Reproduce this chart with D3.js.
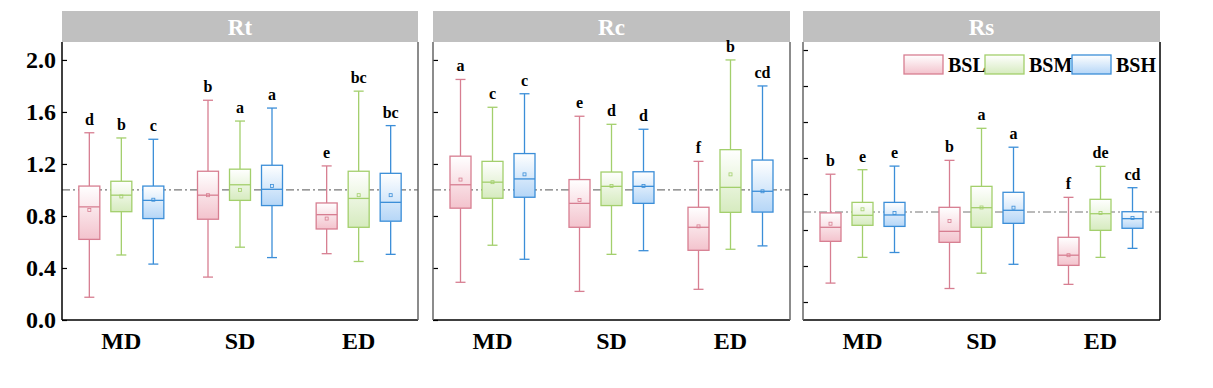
<!DOCTYPE html>
<html>
<head>
<meta charset="utf-8">
<script src="https://cdn.jsdelivr.net/npm/d3@7"></script>
<style>
  body { margin: 0; background: #fff; }
  text { font-family: "Liberation Serif", "DejaVu Serif", serif; font-weight: bold; }
</style>
</head>
<body>
<div class="chart"></div>
<script>
// categories and series
var categories = ["MD", "SD", "ED"];
var series = ["BSL", "BSM", "BSH"];
var panels = ["Rt", "Rc", "Rs"];

// box stats per category, per series: [min, q1, median, q3, max, mean]
var rtStats = [
  [[0.175, 0.62, 0.87, 1.03, 1.44, 0.846], [0.50, 0.833, 0.96, 1.067, 1.40, 0.95], [0.43, 0.78, 0.92, 1.03, 1.39, 0.925]],
  [[0.33, 0.775, 0.96, 1.144, 1.69, 0.96], [0.56, 0.92, 1.04, 1.16, 1.53, 1.0], [0.48, 0.88, 1.005, 1.19, 1.63, 1.03]],
  [[0.51, 0.70, 0.81, 0.90, 1.185, 0.78], [0.45, 0.713, 0.935, 1.144, 1.76, 0.96], [0.505, 0.76, 0.905, 1.128, 1.495, 0.96]]
];
var rcStats = [
  [[0.29, 0.86, 1.04, 1.26, 1.85, 1.08], [0.575, 0.936, 1.06, 1.22, 1.636, 1.06], [0.467, 0.944, 1.085, 1.28, 1.74, 1.12]],
  [[0.22, 0.713, 0.897, 1.08, 1.567, 0.923], [0.505, 0.88, 1.028, 1.138, 1.505, 1.03], [0.533, 0.897, 1.028, 1.14, 1.467, 1.03]],
  [[0.236, 0.536, 0.713, 0.867, 1.22, 0.72], [0.544, 0.828, 1.02, 1.31, 2.0, 1.12], [0.57, 0.83, 0.99, 1.23, 1.80, 0.99]]
];
var rsStats = [
  [[0.21, 0.674, 0.83, 0.99, 1.42, 0.87], [0.496, 0.852, 0.963, 1.107, 1.47, 1.03], [0.55, 0.84, 0.967, 1.107, 1.51, 0.99]],
  [[0.15, 0.663, 0.785, 1.052, 1.574, 0.90], [0.32, 0.83, 1.048, 1.285, 1.93, 1.05], [0.419, 0.874, 1.019, 1.219, 1.72, 1.048]],
  [[0.196, 0.407, 0.52, 0.719, 1.163, 0.52], [0.496, 0.796, 0.981, 1.141, 1.507, 0.99], [0.596, 0.819, 0.926, 1.003, 1.27, 0.933]]
];

// significance letters
var rtLetters = [["d", "b", "c"], ["b", "a", "a"], ["e", "bc", "bc"]];
var rcLetters = [["a", "c", "c"], ["e", "d", "d"], ["f", "b", "cd"]];
var rsLetters = [["b", "e", "e"], ["b", "a", "a"], ["f", "de", "cd"]];

// y axes
var yTicks = [0.0, 0.4, 0.8, 1.2, 1.6, 2.0];
var rsTicks = [0.0, 0.4, 0.8, 1.2, 1.6, 2.0, 2.4, 2.8];
var refValue = 1.0;

var stats = [rtStats, rcStats, rsStats];
var letters = [rtLetters, rcLetters, rsLetters];

// layout
var svgWidth = 1213;
var svgHeight = 388;
var panelX = [[62, 418], [433, 790], [803, 1160]];
var headerTop = 11;
var plotTop = 42;
var plotBottom = 320;

var strokeColors = { BSL: "#d77e91", BSM: "#a3cf6c", BSH: "#3b8ed8" };
var fillColors = { BSL: "#f3c3cd", BSM: "#d6ebbf", BSH: "#b5d6f7" };

var svg = d3.select(".chart")
  .append("svg")
  .attr("width", svgWidth)
  .attr("height", svgHeight);

var defs = svg.append("defs");
series.forEach(function(s) {
  var g = defs.append("linearGradient")
    .attr("id", "grad-" + s)
    .attr("x1", 0).attr("y1", 0).attr("x2", 0).attr("y2", 1);
  g.append("stop").attr("offset", "0%").attr("stop-color", "#ffffff");
  g.append("stop").attr("offset", "100%").attr("stop-color", fillColors[s]);
});

var yMain = d3.scaleLinear().domain([0, 2.138]).range([plotBottom, plotTop]);
var yRs = d3.scaleLinear().domain([-0.2, 2.889]).range([plotBottom, plotTop]);
var yScales = [yMain, yMain, yRs];
var tickSets = [yTicks, yTicks, rsTicks];

var inner = d3.scaleBand().domain(series).range([-48, 48]);
var boxW = 21;
var capW = 10;

panels.forEach(function(name, p) {
  var x0 = panelX[p][0], x1 = panelX[p][1];
  var x = d3.scaleBand().domain(categories).range([x0, x1]);
  var y = yScales[p];
  var g = svg.append("g");

  // header
  g.append("rect")
    .attr("x", x0).attr("y", headerTop)
    .attr("width", x1 - x0).attr("height", plotTop - headerTop)
    .attr("fill", "#c0c0c0");
  g.append("text")
    .attr("x", (x0 + x1) / 2).attr("y", (headerTop + plotTop) / 2 + 8)
    .attr("text-anchor", "middle")
    .attr("font-size", 23)
    .attr("fill", "#fff")
    .text(name);

  // reference line
  g.append("line")
    .attr("x1", x0).attr("x2", x1)
    .attr("y1", y(refValue)).attr("y2", y(refValue))
    .attr("stroke", "#777").attr("stroke-width", 1.2)
    .attr("stroke-dasharray", "8,3,2,3");

  // boxes
  categories.forEach(function(c, ci) {
    series.forEach(function(s, si) {
      var d = stats[p][ci][si];
      var cx = x(c) + x.bandwidth() / 2 + inner(s) + inner.bandwidth() / 2;
      var col = strokeColors[s];
      var bg = g.append("g");
      bg.append("line")
        .attr("x1", cx).attr("x2", cx)
        .attr("y1", y(d[4])).attr("y2", y(d[3]))
        .attr("stroke", col).attr("stroke-width", 1.3);
      bg.append("line")
        .attr("x1", cx).attr("x2", cx)
        .attr("y1", y(d[1])).attr("y2", y(d[0]))
        .attr("stroke", col).attr("stroke-width", 1.3);
      [d[0], d[4]].forEach(function(v) {
        bg.append("line")
          .attr("x1", cx - capW / 2).attr("x2", cx + capW / 2)
          .attr("y1", y(v)).attr("y2", y(v))
          .attr("stroke", col).attr("stroke-width", 1.3);
      });
      bg.append("rect")
        .attr("x", cx - boxW / 2).attr("y", y(d[3]))
        .attr("width", boxW).attr("height", y(d[1]) - y(d[3]))
        .attr("fill", "url(#grad-" + s + ")")
        .attr("stroke", col).attr("stroke-width", 1.3);
      bg.append("line")
        .attr("x1", cx - boxW / 2).attr("x2", cx + boxW / 2)
        .attr("y1", y(d[2])).attr("y2", y(d[2]))
        .attr("stroke", col).attr("stroke-width", 1.3);
      bg.append("rect")
        .attr("x", cx - 1.5).attr("y", y(d[5]) - 1.5)
        .attr("width", 3).attr("height", 3)
        .attr("fill", "none")
        .attr("stroke", col).attr("stroke-width", 0.8);
      g.append("text")
        .attr("x", cx).attr("y", y(d[4]) - 8)
        .attr("text-anchor", "middle")
        .attr("font-size", 16)
        .attr("fill", "#000")
        .text(letters[p][ci][si]);
    });
  });

  // y axis ticks (inward)
  var yAxis = d3.axisRight(y).tickValues(tickSets[p]).tickSize(5)
    .tickFormat(p === 0 ? d3.format(".1f") : "");
  var ya = g.append("g").attr("transform", "translate(" + x0 + ",0)").call(yAxis);
  ya.select(".domain").remove();
  ya.selectAll(".tick line").attr("stroke", "#000").attr("stroke-width", 1.2);
  ya.selectAll(".tick text")
    .attr("x", -6)
    .attr("text-anchor", "end")
    .attr("font-size", 24)
    .attr("font-family", "Liberation Serif")
    .attr("font-weight", "bold")
    .attr("fill", "#000");

  // x axis labels
  var xAxis = d3.axisBottom(x).tickSize(0).tickPadding(12);
  var xa = g.append("g").attr("transform", "translate(0," + plotBottom + ")").call(xAxis);
  xa.select(".domain").remove();
  xa.selectAll(".tick text")
    .attr("font-size", 24)
    .attr("font-family", "Liberation Serif")
    .attr("font-weight", "bold")
    .attr("fill", "#000");

  // frame
  g.append("line")
    .attr("x1", x0).attr("x2", x1).attr("y1", plotBottom).attr("y2", plotBottom)
    .attr("stroke", "#000").attr("stroke-width", 1.5);
  g.append("line")
    .attr("x1", x0).attr("x2", x0).attr("y1", plotTop).attr("y2", plotBottom)
    .attr("stroke", p === 0 ? "#000" : "#666").attr("stroke-width", 1.5);
  g.append("line")
    .attr("x1", x1).attr("x2", x1).attr("y1", plotTop).attr("y2", plotBottom)
    .attr("stroke", p === 2 ? "#000" : "#666").attr("stroke-width", 1.5);
});

// legend in last panel
var legendX = [904, 985, 1072];
var legend = svg.append("g");
series.forEach(function(s, i) {
  legend.append("rect")
    .attr("x", legendX[i]).attr("y", 55)
    .attr("width", 39).attr("height", 19)
    .attr("fill", "url(#grad-" + s + ")")
    .attr("stroke", strokeColors[s]).attr("stroke-width", 1.3);
  legend.append("text")
    .attr("x", legendX[i] + 44).attr("y", 72)
    .attr("font-size", 20)
    .attr("fill", "#000")
    .text(s);
});
</script>
</body>
</html>
